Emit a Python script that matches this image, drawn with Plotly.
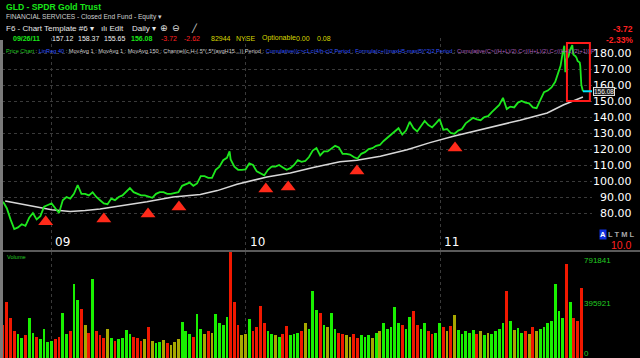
import pandas as pd
import numpy as np
import plotly.graph_objects as go

# ---------------- DATA ----------------
week_start, week_end = "2008-10-03", "2011-08-12"
weekly_close = [
    87, 83, 76, 70, 71, 73, 72, 77, 80, 76, 78, 84, 85, 86, 83, 80, 88, 90, 89, 92,
    97.5, 92, 92, 91, 93, 90, 88, 86, 85.5, 89, 88, 90, 91, 93, 95.6, 93, 92, 91, 91, 90,
    89.5, 92, 93, 93, 92, 92, 92.5, 93, 97, 98, 99, 97, 98.5, 103, 103, 102, 102, 107, 109, 113,
    114.5, 113.5, 109, 107, 107, 107.3, 111, 110, 106, 105, 103.5, 107, 109, 109, 110, 108.5, 107, 108, 110, 113,
    112, 112.5, 115, 119, 120.6, 116, 118.5, 118.5, 120, 122, 121, 117, 117, 116.5, 115, 114, 117, 118, 120, 120.5,
    122, 122.5, 125, 127, 129.5, 131, 133, 129, 131.5, 137, 133, 131, 134, 137.5, 135, 133.5, 136, 138.7, 132, 132.5,
    130, 129.5, 131.5, 132.5, 136, 137.5, 139.5, 138.5, 138, 140, 140.5, 143, 145, 147.5, 152, 145, 146.5, 146, 149, 150,
    149, 148.5, 146, 145.5, 150.5, 155.5, 156.5, 158.5, 162, 170,
]
extra_dates = ["2009-12-02", "2011-08-15", "2011-08-18", "2011-08-22", "2011-08-24", "2011-08-26",
               "2011-08-30", "2011-09-02", "2011-09-06", "2011-09-08", "2011-09-12", "2011-09-14",
               "2011-09-16", "2011-09-20", "2011-09-21", "2011-09-22", "2011-09-23", "2011-09-26"]
extra_close = [118.5, 172, 178, 184.5, 168, 176, 178, 182, 185, 179, 178, 177, 175, 174, 172, 168, 160, 156.08]

ma_dates = ["2008-10-07", "2008-11-28", "2009-01-02", "2009-02-06", "2009-03-06", "2009-04-03",
            "2009-05-24", "2009-06-30", "2009-08-18", "2009-10-08", "2009-11-09", "2009-12-16",
            "2010-02-10", "2010-03-26", "2010-05-08", "2010-06-27", "2010-07-29", "2010-09-11",
            "2010-10-31", "2010-12-13", "2011-01-26", "2011-03-30", "2011-05-31", "2011-07-21",
            "2011-08-20", "2011-09-26"]
ma_150 = [87.5, 84, 82, 81, 81.5, 82.5, 85, 87, 90, 91.5, 94, 98, 102.5, 105, 108.5, 112, 113,
          115.5, 119.5, 124, 128, 133, 138, 142.5, 147.5, 152.5]

signal_dates = ["2008-12-22", "2009-04-10", "2009-07-02", "2009-08-29", "2010-02-08",
                "2010-03-22", "2010-07-29", "2011-01-29"]
signal_level = [74.5, 76.3, 79.4, 83.8, 95, 96.3, 106.3, 120.6]

vol_start, vol_end = "2008-10-03", "2011-09-23"
volume_k = [
    250, 418, 300, 200, 180, 150, 170, 300, 190, 160, 140, 215, 120, 130, 140, 160, 336, 180, 200, 553,
    433, 366, 250, 190, 590, 200, 170, 150, 216, 150, 130, 140, 150, 209, 180, 160, 150, 130, 140, 233,
    130, 110, 120, 134, 110, 100, 120, 140, 270, 200, 180, 160, 328, 220, 180, 200, 190, 328, 260, 250,
    306, 791.841, 418, 250, 170, 180, 291, 200, 230, 388, 260, 200, 180, 170, 160, 180, 239, 170, 180, 190,
    200, 261, 220, 500, 358, 336, 250, 230, 336, 220, 190, 180, 170, 160, 180, 150, 170, 160, 170, 150,
    190, 200, 261, 220, 230, 381, 260, 250, 220, 306, 351, 250, 220, 261, 200, 180, 190, 261, 230, 200,
    240, 321, 210, 180, 200, 190, 210, 180, 200, 170, 190, 180, 200, 220, 260, 500, 280, 210, 224, 190,
    200, 180, 233, 200, 220, 230, 261, 280, 553, 350, 300, 702, 418, 300, 280, 523,
]

price_ticks = [80, 90, 100, 110, 120, 130, 140, 150, 160, 170, 180]
year_ticks = ["2009-01-01", "2010-01-01", "2011-01-01"]
year_labels = ["09", "10", "11"]
vol_scale_labels = ["791841", "395921", "0"]
last_close = 156.08

# ---------------- BUILD ----------------
wdates = pd.date_range(week_start, week_end, freq="W-FRI")
price = pd.concat([pd.Series(weekly_close, index=wdates),
                   pd.Series(extra_close, index=pd.to_datetime(extra_dates))]).sort_index()

vdates = pd.date_range(vol_start, vol_end, freq="W-FRI")
vol = np.array(volume_k) * 1000
p_at = price.reindex(price.index.union(vdates)).ffill().reindex(vdates)
chg = p_at.pct_change().fillna(-0.01).values
vcolors = ["#19f000" if c > 0.006 else ("#f01800" if c < -0.006 else "#a8a800") for c in chg]

W, H = 640, 358
L, PW = 2, 590
def px(x):
    return (x - L) / PW
def py(y):
    return (H - y) / H

fig = go.Figure()
fig.add_trace(go.Scatter(x=ma_dates, y=ma_150, mode="lines", line=dict(color="#d8d8d8", width=1.5),
                         xaxis="x", yaxis="y", hoverinfo="skip"))
fig.add_trace(go.Scatter(x=price.index, y=price.values, mode="lines",
                         line=dict(color="#1ee81e", width=1.8), xaxis="x", yaxis="y"))
fig.add_trace(go.Scatter(x=signal_dates, y=signal_level, mode="markers",
                         marker=dict(symbol="triangle-up", size=13, color="#ff2a1a", line=dict(width=0)),
                         xaxis="x", yaxis="y"))
fig.add_trace(go.Bar(x=vdates, y=vol, marker=dict(color=vcolors, line=dict(width=0)),
                     width=5.2 * 86400000, xaxis="x2", yaxis="y2"))

xr = ["2008-10-01", "2011-10-13"]
grid = dict(showgrid=True, gridcolor="#3a3a3a", griddash="dot", gridwidth=1)
fig.update_layout(
    width=W, height=H, margin=dict(l=L, r=W - L - PW, t=0, b=0),
    paper_bgcolor="black", plot_bgcolor="black", showlegend=False, bargap=0,
    xaxis=dict(domain=[0, 1], range=xr, type="date", anchor="y", tickvals=year_ticks,
               showticklabels=False, zeroline=False, showline=False, ticks="", **grid),
    xaxis2=dict(domain=[0, 1], range=xr, type="date", anchor="y2", matches="x", tickvals=year_ticks,
                showticklabels=False, zeroline=False, showline=False, ticks="", **grid),
    yaxis=dict(domain=[py(250), py(38)], range=[80 - (250 - 213) / 1.6, 80 + (213 - 38) / 1.6],
               side="right", tickvals=price_ticks, showticklabels=False, zeroline=False, ticks="", **grid),
    yaxis2=dict(domain=[0, py(252)], range=[0, 791841], showgrid=False, showticklabels=False,
                zeroline=False, ticks=""),
)

shapes = [
    dict(type="line", xref="paper", yref="paper", x0=px(0), x1=px(640), y0=py(251), y1=py(251),
         line=dict(color="#5a5a5a", width=2)),
    dict(type="rect", xref="paper", yref="paper", x0=px(0), x1=px(3), y0=py(358), y1=py(40),
         fillcolor="#7a7a7a", line=dict(width=0)),
    dict(type="rect", xref="x", yref="y", x0="2011-08-27", x1="2011-10-09", y0=150, y1=186.3,
         line=dict(color="#ff1a1a", width=2)),
    dict(type="line", xref="x", yref="y", x0="2011-09-26", x1=xr[1], y0=last_close, y1=last_close,
         line=dict(color="#00e5ff", width=2)),
]
fig.update_layout(shapes=shapes)

ann = []
def txt(x, y, s, color, size, bold=False, anchor="left", family="Liberation Sans", **kw):
    ann.append(dict(x=px(x), y=py(y), xref="paper", yref="paper", text=f"<b>{s}</b>" if bold else s,
                    showarrow=False, xanchor=anchor, yanchor="middle",
                    font=dict(color=color, size=size, family=family), **kw))

# header
txt(4, 7, "GLD - SPDR Gold Trust", "#19e619", 8.6, bold=True)
txt(4, 17, "FINANCIAL SERVICES - Closed End Fund - Equity ▾", "#d0d0d0", 6.6)
txt(4, 28, "F6 - Chart Template #6 ▾", "#e8e8e8", 8)
txt(99, 28, "ılı Edit", "#e8e8e8", 8)
txt(130, 28, "Daily ▾", "#e8e8e8", 8)
txt(158, 28, "⊕", "#e0e0e0", 9, family="DejaVu Sans")
txt(170, 28, "⊖", "#e0e0e0", 9, family="DejaVu Sans")
txt(189, 28, "╱", "#e0e0e0", 8, family="DejaVu Sans")
row4 = [(11, "09/26/11", "#19e619", True), (50, "157.12", "#f0f0f0", False), (76, "158.37", "#f0f0f0", False),
        (102, "155.65", "#f0f0f0", False), (129, "156.08", "#19e619", True), (159, "-3.72", "#ff2020", False),
        (182, "-2.62", "#ff2020", False), (209, "82944", "#d8d800", False), (234, "NYSE", "#d8d800", False),
        (260, "Optionable", "#d8d800", False), (294, "0.00", "#d8d800", False), (315, "0.08", "#d8d800", False)]
for x, s, c, b in row4:
    txt(x, 38, s, c, 7, bold=b)
row5 = ('<span style="color:#22cc22">Price Chart</span> : <span style="color:#3355ff">LinReg 40</span>'
        ' : MovAvg 1 : MovAvg 1 : MovAvg 150 : Channel(c.H-(.5*(.5*(avgH15...)) Period : '
        '<span style="color:#3355ff">Cumulative((c&gt;c1.c(4/h-c)2 Period : Formula(c+((maxH5-maxl5)^2)2 Period</span>'
        ' : <span style="color:#b060c0">Cumulative(C&gt;((H+L)/2),C&lt;((H+L)/2),C&lt;((H+L)/2)+1)) P</span>')
txt(4, 51, row5, "#cfcfcf", 5.6)
txt(635, 29, "-3.72", "#ff2020", 8.5, bold=True, anchor="right")
txt(635, 40, "-2.33%", "#ff2020", 8.5, bold=True, anchor="right")

# price scale labels
for v in price_ticks:
    ann.append(dict(x=px(634), y=v, xref="paper", yref="y", text=f"{v:.2f}", showarrow=False,
                    xanchor="right", yanchor="middle", font=dict(color="white", size=11, family="DejaVu Sans")))
ann.append(dict(x=px(593), y=last_close, xref="paper", yref="y", text=f"{last_close:.2f}", showarrow=False,
                xanchor="left", yanchor="middle", bgcolor="#202020", bordercolor="#e0e0e0", borderwidth=1,
                borderpad=0, font=dict(color="#f0f0f0", size=6.5, family="Liberation Sans")))
# year labels
for d, s in zip(year_ticks, year_labels):
    ann.append(dict(x=d, y=py(242), xref="x", yref="paper", text=s, showarrow=False, xanchor="left",
                    yanchor="middle", xshift=2, font=dict(color="white", size=12, family="DejaVu Sans")))
# A L T M L
txt(599, 234, "A", "white", 7.5, bold=True, bgcolor="#1030e0", borderpad=0)
txt(637, 234, "L T M L", "#a8a8a8", 7.5, bold=True, anchor="right")
txt(609, 245, "10.0", "#ff2020", 10.5, bold=False)
# volume panel labels
txt(5, 257, "Volume", "#22cc22", 5.6)
for s, y in zip(vol_scale_labels, [260, 303, 353]):
    txt(582, y, s, "#22cc22", 8)

fig.update_layout(annotations=ann)
fig.write_html("out.html", config={"displayModeBar": False},
               post_script="document.body.style.margin='0px';document.body.style.overflow='hidden';")
